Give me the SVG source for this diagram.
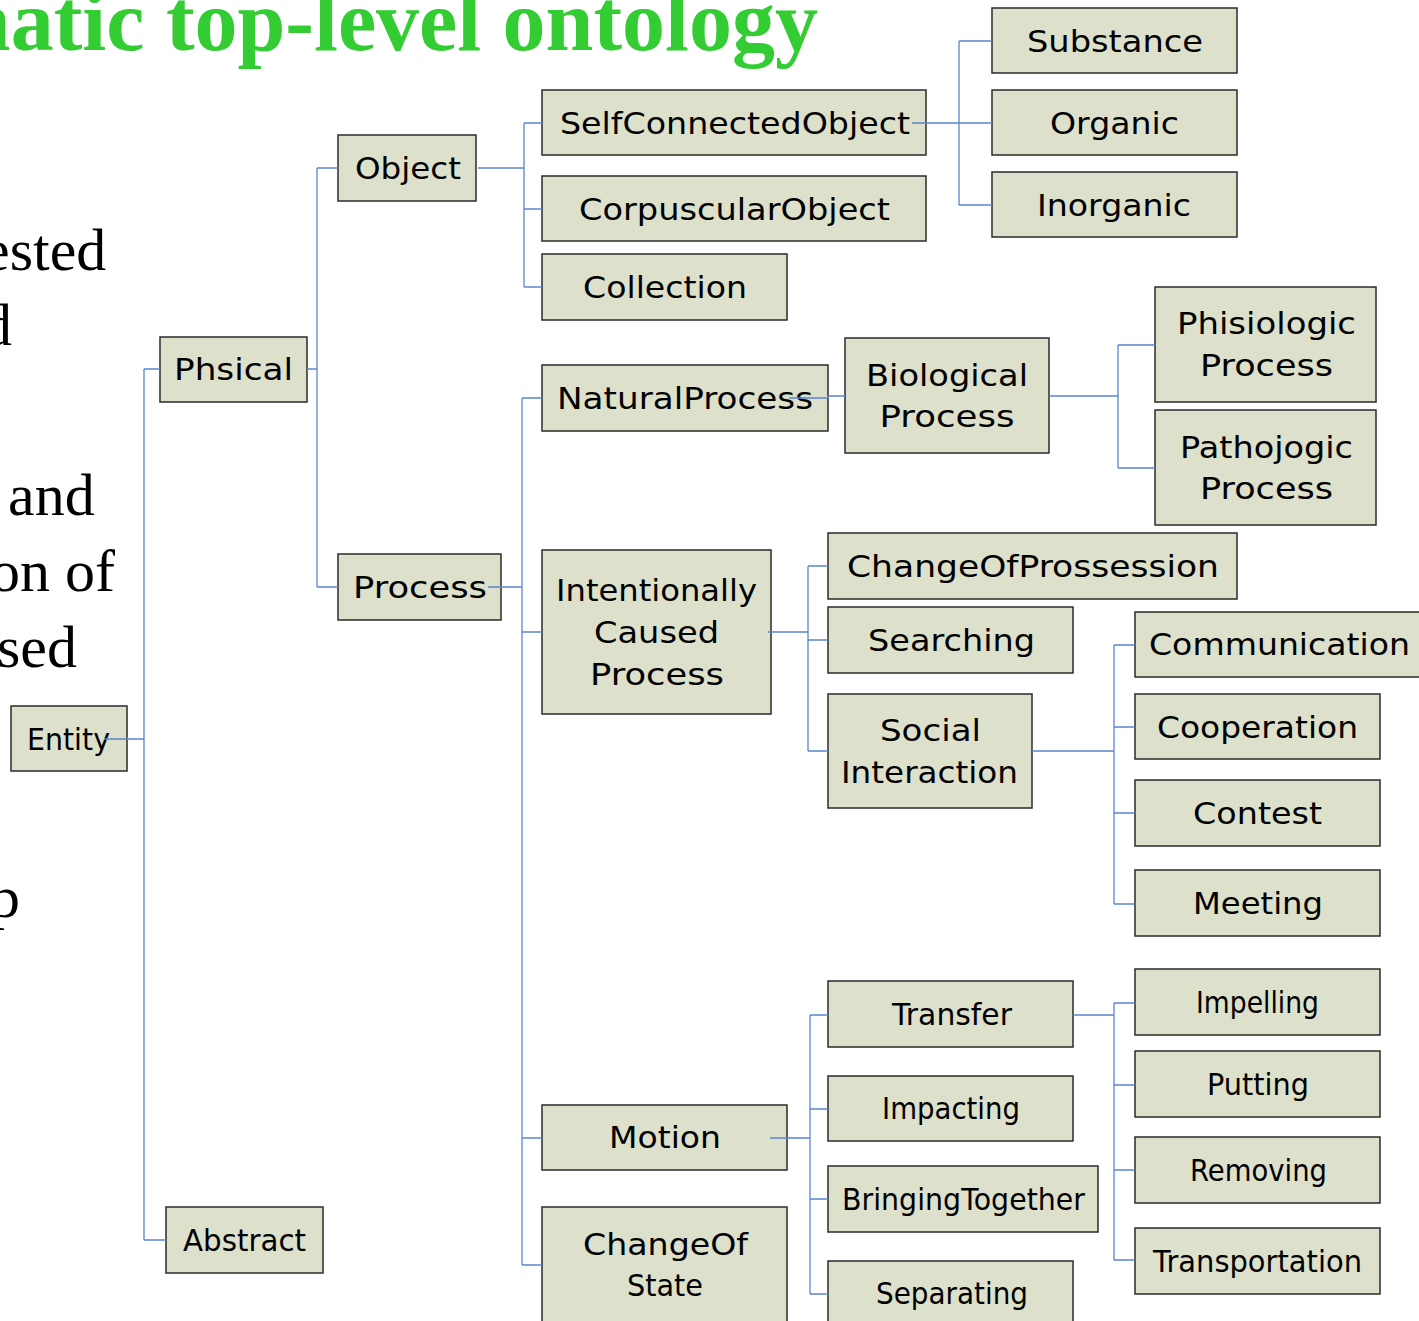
<svg xmlns="http://www.w3.org/2000/svg" width="1419" height="1321" viewBox="0 0 1419 1321">
  <style>
    .box { fill: #dde0cb; stroke: #2b2b2b; stroke-width: 1.5; }
    .lbl { font-family: "DejaVu Sans", "Noto Sans", sans-serif; font-size: 31px; fill: #000; text-anchor: middle; }
    .body { font-family: "Liberation Serif", "Times New Roman", serif; font-size: 60px; fill: #000; }
    .title { font-family: "Liberation Serif", "Times New Roman", serif; font-size: 86px; font-weight: bold; fill: #33cc33; }
    .conn { fill: none; stroke: #5b86cf; stroke-width: 1.3; }
  </style>

  <!-- heading and slide body text running off the left edge -->
  <text class="title" x="818" y="50" text-anchor="end">matic top-level ontology</text>
  <text class="body" x="-17" y="270">ested</text>
  <text class="body" x="-18" y="345">d</text>
  <text class="body" x="8" y="515">and</text>
  <text class="body" x="-10" y="591">on of</text>
  <text class="body" x="-3" y="667">sed</text>
  <text class="body" x="-10" y="917">p</text>

  <!-- nodes -->
  <g id="entity"><rect class="box" x="11" y="706" width="116" height="65"/><text class="lbl" x="68.5" y="750" textLength="83" lengthAdjust="spacingAndGlyphs">Entity</text></g>
  <g id="phsical"><rect class="box" x="160" y="337" width="147" height="65"/><text class="lbl" x="233.5" y="380" textLength="119" lengthAdjust="spacingAndGlyphs">Phsical</text></g>
  <g id="abstract"><rect class="box" x="166" y="1207" width="157" height="66"/><text class="lbl" x="244.5" y="1251" textLength="123" lengthAdjust="spacingAndGlyphs">Abstract</text></g>
  <g id="object"><rect class="box" x="338" y="135" width="138" height="66"/><text class="lbl" x="408" y="179" textLength="106" lengthAdjust="spacingAndGlyphs">Object</text></g>
  <g id="process"><rect class="box" x="338" y="554" width="163" height="66"/><text class="lbl" x="420" y="598" textLength="134" lengthAdjust="spacingAndGlyphs">Process</text></g>

  <g id="self-connected-object"><rect class="box" x="542" y="90" width="384" height="65"/><text class="lbl" x="735" y="134" textLength="350" lengthAdjust="spacingAndGlyphs">SelfConnectedObject</text></g>
  <g id="corpuscular-object"><rect class="box" x="542" y="176" width="384" height="65"/><text class="lbl" x="734.5" y="220" textLength="311" lengthAdjust="spacingAndGlyphs">CorpuscularObject</text></g>
  <g id="collection"><rect class="box" x="542" y="254" width="245" height="66"/><text class="lbl" x="665" y="298" textLength="164" lengthAdjust="spacingAndGlyphs">Collection</text></g>

  <g id="substance"><rect class="box" x="992" y="8" width="245" height="65"/><text class="lbl" x="1115" y="52" textLength="176" lengthAdjust="spacingAndGlyphs">Substance</text></g>
  <g id="organic"><rect class="box" x="992" y="90" width="245" height="65"/><text class="lbl" x="1114.5" y="134" textLength="129" lengthAdjust="spacingAndGlyphs">Organic</text></g>
  <g id="inorganic"><rect class="box" x="992" y="172" width="245" height="65"/><text class="lbl" x="1114" y="216" textLength="154" lengthAdjust="spacingAndGlyphs">Inorganic</text></g>

  <g id="natural-process"><rect class="box" x="542" y="365" width="286" height="66"/><text class="lbl" x="685" y="409" textLength="256" lengthAdjust="spacingAndGlyphs">NaturalProcess</text></g>
  <g id="biological-process"><rect class="box" x="845" y="338" width="204" height="115"/><text class="lbl" x="947" y="386" textLength="162" lengthAdjust="spacingAndGlyphs">Biological</text><text class="lbl" x="947" y="427" textLength="135" lengthAdjust="spacingAndGlyphs">Process</text></g>
  <g id="phisiologic-process"><rect class="box" x="1155" y="287" width="221" height="115"/><text class="lbl" x="1266.5" y="334" textLength="179" lengthAdjust="spacingAndGlyphs">Phisiologic</text><text class="lbl" x="1266.5" y="376" textLength="133" lengthAdjust="spacingAndGlyphs">Process</text></g>
  <g id="pathojogic-process"><rect class="box" x="1155" y="410" width="221" height="115"/><text class="lbl" x="1266.5" y="458" textLength="173" lengthAdjust="spacingAndGlyphs">Pathojogic</text><text class="lbl" x="1266.5" y="499" textLength="133" lengthAdjust="spacingAndGlyphs">Process</text></g>

  <g id="intentionally-caused-process"><rect class="box" x="542" y="550" width="229" height="164"/><text class="lbl" x="656.5" y="601" textLength="201" lengthAdjust="spacingAndGlyphs">Intentionally</text><text class="lbl" x="656.5" y="643" textLength="125" lengthAdjust="spacingAndGlyphs">Caused</text><text class="lbl" x="657" y="685" textLength="134" lengthAdjust="spacingAndGlyphs">Process</text></g>
  <g id="change-of-prossession"><rect class="box" x="828" y="533" width="409" height="66"/><text class="lbl" x="1033" y="577" textLength="372" lengthAdjust="spacingAndGlyphs">ChangeOfProssession</text></g>
  <g id="searching"><rect class="box" x="828" y="607" width="245" height="66"/><text class="lbl" x="951.5" y="651" textLength="167" lengthAdjust="spacingAndGlyphs">Searching</text></g>
  <g id="social-interaction"><rect class="box" x="828" y="694" width="204" height="114"/><text class="lbl" x="930.5" y="741" textLength="101" lengthAdjust="spacingAndGlyphs">Social</text><text class="lbl" x="929.5" y="783" textLength="177" lengthAdjust="spacingAndGlyphs">Interaction</text></g>

  <g id="communication"><rect class="box" x="1135" y="612" width="290" height="65"/><text class="lbl" x="1279.5" y="655" textLength="261" lengthAdjust="spacingAndGlyphs">Communication</text></g>
  <g id="cooperation"><rect class="box" x="1135" y="694" width="245" height="65"/><text class="lbl" x="1257.5" y="738" textLength="201" lengthAdjust="spacingAndGlyphs">Cooperation</text></g>
  <g id="contest"><rect class="box" x="1135" y="780" width="245" height="66"/><text class="lbl" x="1257.5" y="824" textLength="129" lengthAdjust="spacingAndGlyphs">Contest</text></g>
  <g id="meeting"><rect class="box" x="1135" y="870" width="245" height="66"/><text class="lbl" x="1258" y="914" textLength="130" lengthAdjust="spacingAndGlyphs">Meeting</text></g>

  <g id="motion"><rect class="box" x="542" y="1105" width="245" height="65"/><text class="lbl" x="665" y="1148" textLength="112" lengthAdjust="spacingAndGlyphs">Motion</text></g>
  <g id="change-of-state"><rect class="box" x="542" y="1207" width="245" height="130"/><text class="lbl" x="665.5" y="1255" textLength="165" lengthAdjust="spacingAndGlyphs">ChangeOf</text><text class="lbl" x="665" y="1296" textLength="76" lengthAdjust="spacingAndGlyphs">State</text></g>

  <g id="transfer"><rect class="box" x="828" y="981" width="245" height="66"/><text class="lbl" x="952" y="1025" textLength="120" lengthAdjust="spacingAndGlyphs">Transfer</text></g>
  <g id="impacting"><rect class="box" x="828" y="1076" width="245" height="65"/><text class="lbl" x="951" y="1119" textLength="138" lengthAdjust="spacingAndGlyphs">Impacting</text></g>
  <g id="bringing-together"><rect class="box" x="828" y="1166" width="270" height="66"/><text class="lbl" x="963.5" y="1210" textLength="243" lengthAdjust="spacingAndGlyphs">BringingTogether</text></g>
  <g id="separating"><rect class="box" x="828" y="1261" width="245" height="76"/><text class="lbl" x="952" y="1304" textLength="152" lengthAdjust="spacingAndGlyphs">Separating</text></g>

  <g id="impelling"><rect class="box" x="1135" y="969" width="245" height="66"/><text class="lbl" x="1257.5" y="1013" textLength="123" lengthAdjust="spacingAndGlyphs">Impelling</text></g>
  <g id="putting"><rect class="box" x="1135" y="1051" width="245" height="66"/><text class="lbl" x="1258" y="1095" textLength="102" lengthAdjust="spacingAndGlyphs">Putting</text></g>
  <g id="removing"><rect class="box" x="1135" y="1137" width="245" height="66"/><text class="lbl" x="1258.5" y="1181" textLength="137" lengthAdjust="spacingAndGlyphs">Removing</text></g>
  <g id="transportation"><rect class="box" x="1135" y="1228" width="245" height="66"/><text class="lbl" x="1257.5" y="1272" textLength="209" lengthAdjust="spacingAndGlyphs">Transportation</text></g>

  <!-- elbow connectors from each parent to its children -->
  <g id="connectors" class="conn">
    <path d="M104,739 H144 M144,369 V1240 M144,369 H160 M144,1240 H166"/>
    <path d="M307,369 H317 M317,168 V587 M317,168 H338 M317,587 H338"/>
    <path d="M478,168 H524 M524,123 V287 M524,123 H542 M524,209 H542 M524,287 H542"/>
    <path d="M912,123 H992 M959,41 V205 M959,41 H992 M959,205 H992"/>
    <path d="M488,587 H522 M522,398 V1265 M522,398 H542 M522,632 H542 M522,1138 H542 M522,1265 H542"/>
    <path d="M789,398 H828 V396 H845"/>
    <path d="M1049,396 H1118 M1118,345 V468 M1118,345 H1155 M1118,468 H1155"/>
    <path d="M768,632 H808 M808,566 V751 M808,566 H828 M808,640 H828 M808,751 H828"/>
    <path d="M1032,751 H1114 M1114,645 V904 M1114,645 H1135 M1114,727 H1135 M1114,813 H1135 M1114,904 H1135"/>
    <path d="M770,1138 H810 M810,1015 V1294 M810,1015 H828 M810,1109 H828 M810,1199 H828 M810,1294 H828"/>
    <path d="M1073,1015 H1114 M1114,1003 V1260 M1114,1003 H1135 M1114,1085 H1135 M1114,1170 H1135 M1114,1260 H1135"/>
  </g>
</svg>
